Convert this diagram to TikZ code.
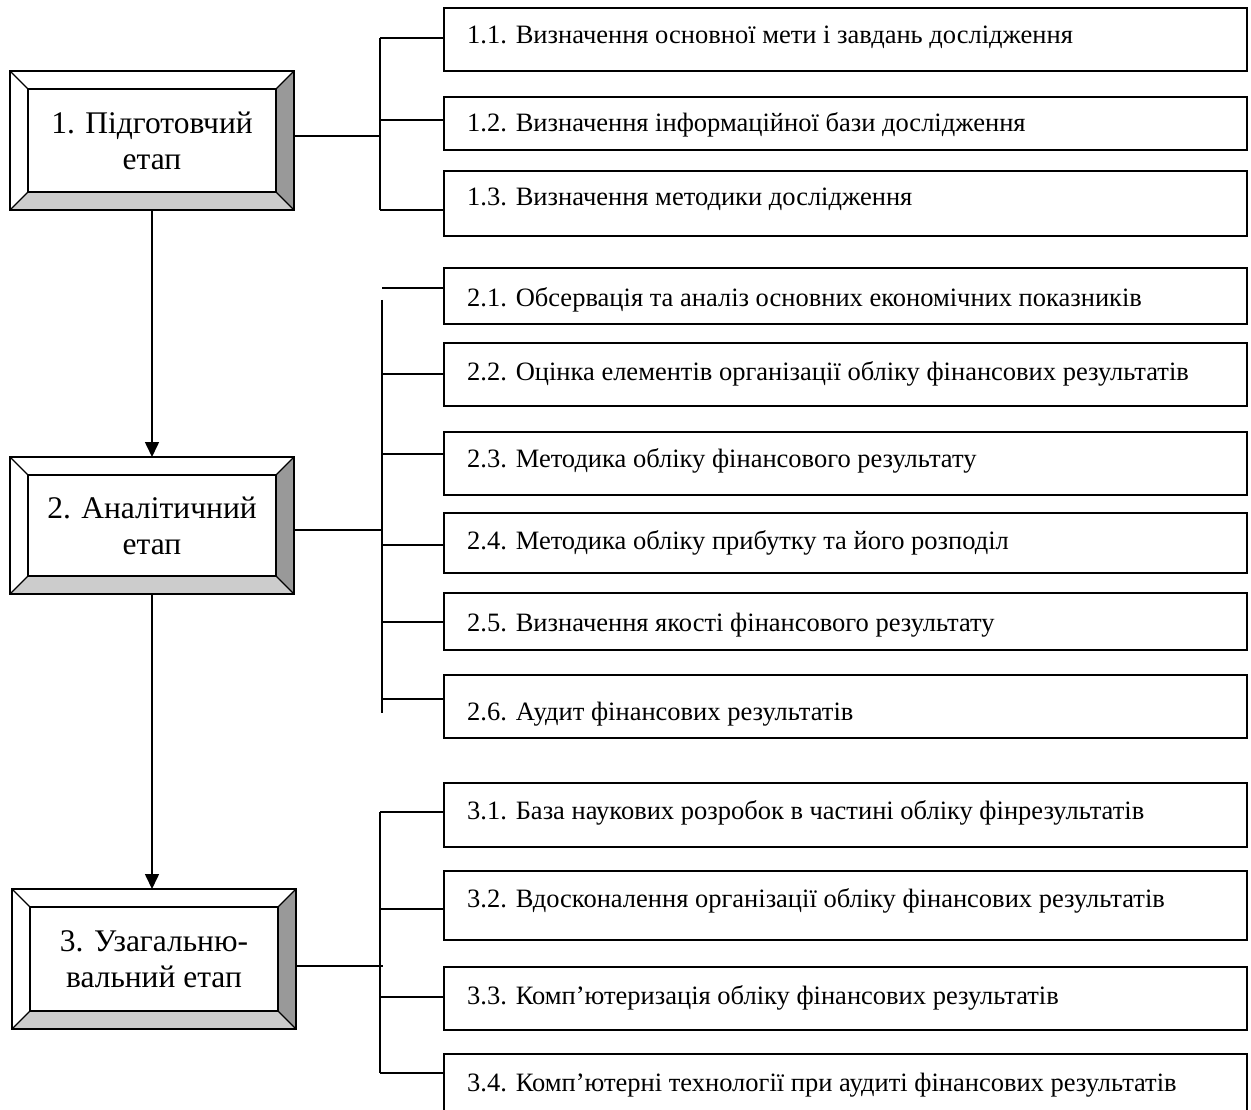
\documentclass[tikz,border=0pt]{standalone}
\usepackage{fontspec}
\setmainfont{Liberation Serif}
\usetikzlibrary{calc,arrows.meta}
\definecolor{bevdark}{HTML}{999999}
\definecolor{bevlight}{HTML}{CCCCCC}
\tikzset{
  stage/.style={draw, line width=1.6pt, inner sep=0pt, outer sep=0pt, align=center,
    font=\fontsize{31.5}{36}\selectfont},
  itembox/.style={draw, line width=1.6pt, inner sep=0pt, outer sep=0pt},
  itemtext/.style={anchor=base west, inner sep=0pt, font=\fontsize{26.5}{30}\selectfont},
  link/.style={line width=1.4pt},
  flow/.style={line width=1.6pt, -{Triangle[length=15pt,width=14pt]}},
}
% framed box of a stage: x1, y1, x2, y2
\newcommand\stagenode[6]{%
  \node[stage, minimum width={#4-#2}, minimum height={#5-#3}] (#1) at ({(#2+#4)/2},{(#3+#5)/2}) {#6};}
% bevelled frame drawn over a stage node
\newcommand\bevelframe[2]{%
  \fill[bevdark] (#1.north east) -- (#1.south east) -- ($(#1.south east)+(-#2pt,#2pt)$)
    -- ($(#1.north east)+(-#2pt,-#2pt)$) -- cycle;
  \fill[bevlight] (#1.south west) -- (#1.south east) -- ($(#1.south east)+(-#2pt,#2pt)$)
    -- ($(#1.south west)+(#2pt,#2pt)$) -- cycle;
  \draw[line width=1.6pt] ($(#1.north west)+(#2pt,-#2pt)$) rectangle ($(#1.south east)+(-#2pt,#2pt)$);
  \draw[line width=1.4pt] (#1.north west) -- ($(#1.north west)+(#2pt,-#2pt)$)
    (#1.north east) -- ($(#1.north east)+(-#2pt,-#2pt)$)
    (#1.south west) -- ($(#1.south west)+(#2pt,#2pt)$)
    (#1.south east) -- ($(#1.south east)+(-#2pt,#2pt)$);
  \draw[line width=1.6pt] (#1.north west) rectangle (#1.south east);}
% item box: name, top, bottom, text baseline, text
\newcommand\itemnode[5]{%
  \node[itembox, minimum width=803, minimum height={#3-#2}] (#1) at (845.5,{(#2+#3)/2}) {};
  \node[itemtext] (t#1) at (467,#4) {#5};}
\begin{document}
\begin{tikzpicture}[x=1pt,y=-1pt]
\useasboundingbox (0,0) rectangle (1251,1110);
\clip (0,0) rectangle (1251,1110);

% stages
\stagenode{s1}{10}{71}{294}{210}{1. Підготовчий\\етап}
\stagenode{s2}{10}{457}{294}{594}{2. Аналітичний\\етап}
\stagenode{s3}{12}{889}{296}{1029}{3. Узагальню-\\вальний етап}
\bevelframe{s1}{18}
\bevelframe{s2}{18}
\bevelframe{s3}{18}

% items of stage 1
\itemnode{b11}{8}{71}{44}{1.1. Визначення основної мети і завдань дослідження}
\itemnode{b12}{97}{150}{132}{1.2. Визначення інформаційної бази дослідження}
\itemnode{b13}{171}{236}{206}{1.3. Визначення методики дослідження}
% items of stage 2
\itemnode{b21}{268}{324}{306}{2.1. Обсервація та аналіз основних економічних показників}
\itemnode{b22}{343}{406}{380}{2.2. Оцінка елементів організації обліку фінансових результатів}
\itemnode{b23}{432}{495}{467}{2.3. Методика обліку фінансового результату}
\itemnode{b24}{513}{573}{549}{2.4. Методика обліку прибутку та його розподіл}
\itemnode{b25}{593}{650}{631}{2.5. Визначення якості фінансового результату}
\itemnode{b26}{675}{738}{720}{2.6. Аудит фінансових результатів}
% items of stage 3
\itemnode{b31}{783}{847}{819}{3.1. База наукових розробок в частині обліку фінрезультатів}
\itemnode{b32}{871}{940}{907}{3.2. Вдосконалення організації обліку фінансових результатів}
\itemnode{b33}{967}{1030}{1004}{3.3. Комп’ютеризація обліку фінансових результатів}
\itemnode{b34}{1054}{1120}{1091}{3.4. Комп’ютерні технології при аудиті фінансових результатів}

% stage flow
\draw[flow] (s1.south) -- (s2.north);
\draw[flow] (s2.south) -- (s2.south |- s3.north);

% bus of stage 1
\coordinate (h1) at (380,136);
\coordinate (k11) at (380,38);
\coordinate (k12) at (380,120);
\coordinate (k13) at (380,210);
\draw[link] (s1.east |- h1) -- (h1);
\draw[link] (k11) -- (k13);
\draw[link] (k11) -- (k11 -| b11.west);
\draw[link] (k12) -- (k12 -| b12.west);
\draw[link] (k13) -- (k13 -| b13.west);

% bus of stage 2
\coordinate (h2) at (382,530);
\coordinate (v2a) at (382,300);
\coordinate (v2b) at (382,713);
\coordinate (k21) at (382,288);
\coordinate (k22) at (382,374);
\coordinate (k23) at (382,454);
\coordinate (k24) at (382,545);
\coordinate (k25) at (382,622);
\coordinate (k26) at (382,699);
\draw[link] (s2.east |- h2) -- (h2);
\draw[link] (v2a) -- (v2b);
\draw[link] (k21) -- (k21 -| b21.west);
\draw[link] (k22) -- (k22 -| b22.west);
\draw[link] (k23) -- (k23 -| b23.west);
\draw[link] (k24) -- (k24 -| b24.west);
\draw[link] (k25) -- (k25 -| b25.west);
\draw[link] (k26) -- (k26 -| b26.west);

% bus of stage 3
\coordinate (h3) at (383,966);
\coordinate (k31) at (380,812);
\coordinate (k32) at (380,909);
\coordinate (k33) at (380,997);
\coordinate (k34) at (380,1073);
\draw[link] (s3.east |- h3) -- (h3);
\draw[link] (k31) -- (k34);
\draw[link] (k31) -- (k31 -| b31.west);
\draw[link] (k32) -- (k32 -| b32.west);
\draw[link] (k33) -- (k33 -| b33.west);
\draw[link] (k34) -- (k34 -| b34.west);
\end{tikzpicture}
\end{document}
